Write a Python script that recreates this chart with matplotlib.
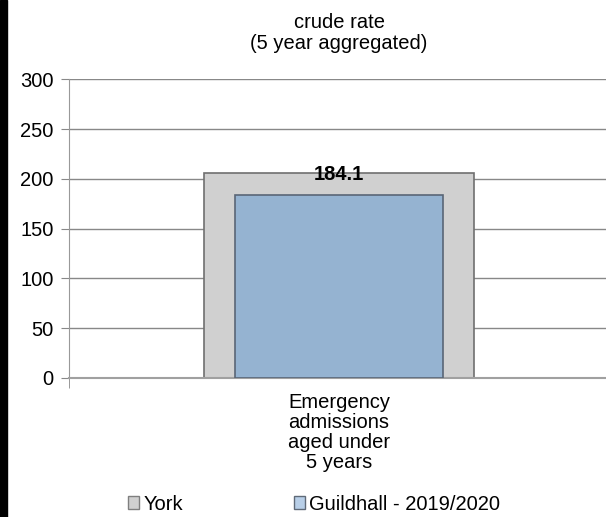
import matplotlib.pyplot as plt
from matplotlib.patches import Patch, Rectangle

plt.rcParams['font.family'] = ['Liberation Sans', 'DejaVu Sans']
FS = 14.5

# Данные
categories = ['Emergency\nadmissions\naged under\n5 years']
york_values = [206.0]
guildhall_values = [184.1]
series_names = ['York', 'Guildhall - 2019/2020']

fig = plt.figure(figsize=(6.06, 5.17), dpi=100)
ax = fig.add_axes([69 / 606, 0.2689, 540 / 606, 0.5774])

x = [0]
ax.bar(x, york_values, width=0.5, color='#d0d0d0', edgecolor='#6f6f6f', linewidth=1.2, zorder=2)
ax.bar(x, guildhall_values, width=0.385, color='#95b3d1', edgecolor='#5a6676', linewidth=1.2, zorder=3)

# Подпись значения
for xi, yv, gv in zip(x, york_values, guildhall_values):
    ax.text(xi, yv - 2, f'{gv:.1f}', ha='center', va='center',
            fontsize=FS, fontweight='bold', zorder=4)

ax.set_xlim(-0.5, 0.5)
ax.set_ylim(0, 300)
ax.set_yticks(range(0, 301, 50))
ax.tick_params(axis='y', labelsize=FS, length=6, color='#888888', pad=5)
ax.set_xticks(x)
ax.set_xticklabels(categories, fontsize=FS, linespacing=1.05)
ax.tick_params(axis='x', length=0, pad=11)
ax.set_xticks([-0.5, 0.5], minor=True)
ax.tick_params(axis='x', which='minor', length=7, color='#888888')
ax.grid(axis='y', color='#888888', linewidth=1, zorder=0)
for s in ['top', 'right']:
    ax.spines[s].set_visible(False)
ax.spines['left'].set_color('#999999')
ax.spines['bottom'].set_color('#a0a0a0')
ax.spines['bottom'].set_linewidth(1.5)

fig.text(339 / 606, 1 - 33 / 517, 'crude rate\n(5 year aggregated)', ha='center', va='center',
         fontsize=FS, linespacing=1.12)

handles = [Patch(facecolor='#d0d0d0', edgecolor='#7f7f7f'),
           Patch(facecolor='#b8cfe8', edgecolor='#5f6a78')]
fig.legend(handles, series_names, loc='center', bbox_to_anchor=(0.518, 0.025), ncol=2,
           frameon=False, fontsize=FS, handlelength=0.55, handleheight=0.55,
           handletextpad=0.2, columnspacing=5.5, borderpad=0, borderaxespad=0)

# Чёрная полоса слева
fig.patches.append(Rectangle((0, 0), 7 / 606, 1, transform=fig.transFigure,
                             color='black', zorder=10))

fig.savefig('out.png', dpi=100)
